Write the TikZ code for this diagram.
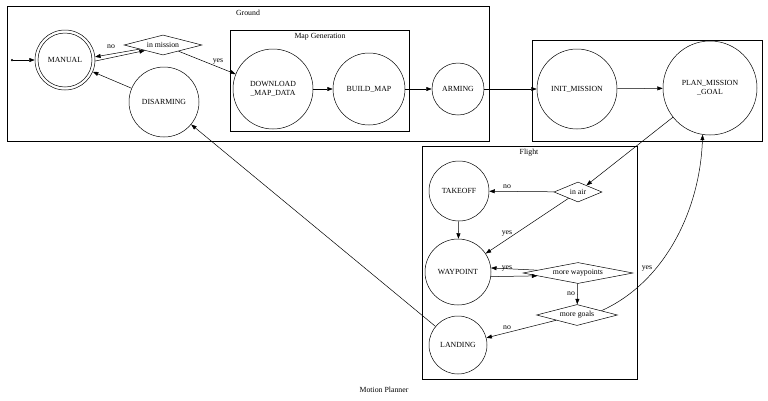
\documentclass[tikz,border=0pt]{standalone}
\usepackage{fontspec}
\setmainfont{Liberation Serif}
\usetikzlibrary{arrows.meta,shapes.geometric}
\begin{document}
\begin{tikzpicture}[x=1pt,y=-1pt, font=\fontsize{7.8}{9}\selectfont,
 st/.style={circle,draw,inner sep=0pt,line width=0.5pt},
 dec/.style={diamond,draw,inner sep=0pt,aspect=4,line width=0.5pt},
 arr/.style={-{Triangle[length=5.5pt,width=4pt]},line width=0.5pt},
 cl/.style={draw,line width=0.5pt},
 lbl/.style={inner sep=1pt}]
\useasboundingbox (0,0) rectangle (768,400);
% clusters
\draw[cl] (7,6) rectangle (489,141);
\node[lbl] (lg) at (248,13) {Ground};
\draw[cl] (230,30) rectangle (409,131);
\node[lbl] (lmg) at (320,37) {Map Generation};
\draw[cl] (532,40) rectangle (762,141);
\draw[cl] (422,146) rectangle (637,379);
\node[lbl] (lf) at (529,153) {Flight};
\node[lbl] (lmp) at (384,390) {Motion Planner};
% nodes
\node[st,minimum size=60pt] (manual) at (65,60) {MANUAL};
\draw[line width=0.5pt] (manual.center) circle[radius=27pt];
\node[circle,fill,inner sep=0pt,minimum size=2.5pt] (start) at (12,60) {};
\node[dec,minimum width=78pt,minimum height=20pt] (im) at (163,45) {in mission};
\node[st,minimum size=70pt] (dis) at (164,102) {DISARMING};
\node[st,minimum size=80pt,align=center] (dl) at (273,89) {DOWNLOAD\\\_MAP\_DATA};
\node[st,minimum size=72pt] (bm) at (369,89) {BUILD\_MAP};
\node[st,minimum size=52pt] (arm) at (458,89) {ARMING};
\node[st,minimum size=80pt] (init) at (577,89) {INIT\_MISSION};
\node[st,minimum size=94pt,align=center] (plan) at (710,88) {PLAN\_MISSION\\\_GOAL};
\node[st,minimum size=60pt] (to) at (459,191) {TAKEOFF};
\node[dec,minimum width=48pt,minimum height=20pt] (air) at (578,192) {in air};
\node[st,minimum size=66pt] (wp) at (458,272) {WAYPOINT};
\node[dec,minimum width=110pt,minimum height=21pt] (mw) at (578,273) {more waypoints};
\node[dec,minimum width=81pt,minimum height=21pt] (mg) at (577,315) {more goals};
\node[st,minimum size=58pt] (land) at (458,345) {LANDING};
% edge labels
\node[lbl] (lno1) at (111,47) {no};
\node[lbl] (lyes1) at (218,61) {yes};
\node[lbl] (lno2) at (507,187) {no};
\node[lbl] (lyes2) at (507,233) {yes};
\node[lbl] (lyes3) at (507,268) {yes};
\node[lbl] (lno3) at (571,294) {no};
\node[lbl] (lno4) at (507,328) {no};
\node[lbl] (lyes4) at (647,268) {yes};
% edges
\draw[arr] (start) -- (manual);
\draw[arr] (manual.-2) -- (im.197);
\draw[arr] (im.190) -- (manual.6);
\draw[arr] (im) -- (dl);
\draw[arr] (dl) -- (bm);
\draw[arr] (bm) -- (arm);
\draw[arr] (arm) -- (init);
\draw[arr] (init) -- (plan);
\draw[arr] (plan) -- (air);
\draw[arr] (air) -- (to);
\draw[arr] (air) -- (wp);
\draw[arr] (to) -- (wp);
\draw[arr] (wp.-8) -- (mw.184);
\draw[arr] (mw.176) -- (wp.7);
\draw[arr] (mw) -- (mg);
\draw[arr] (mg) -- (land);
\draw[arr] (land) -- (dis);
\draw[arr] (dis) -- (manual);
\draw[arr] (mg.10) .. controls (665,282) and (700,210) .. (plan.261);
\end{tikzpicture}
\end{document}
